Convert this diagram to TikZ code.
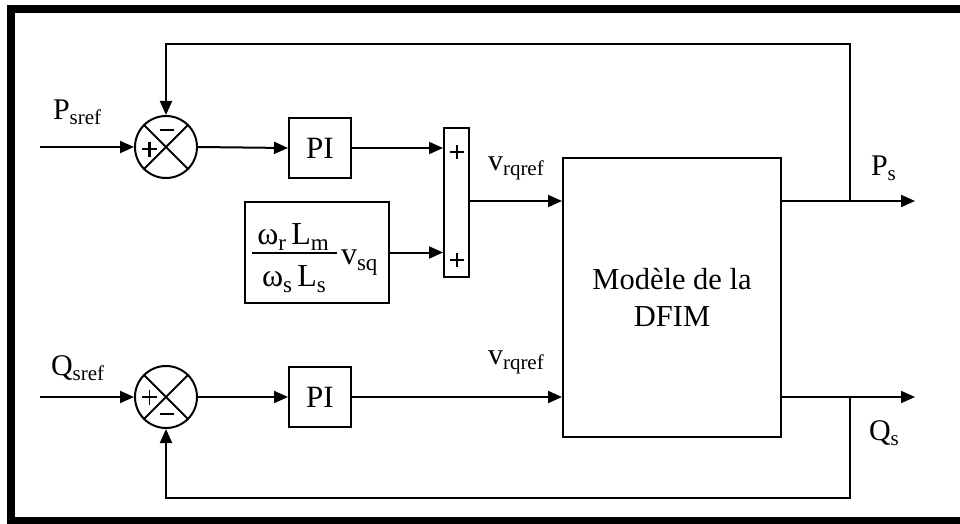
\documentclass[tikz,border=0pt]{standalone}
\usepackage{fontspec}
\setmainfont{Liberation Serif}
\usetikzlibrary{arrows.meta}
\newcommand\sbx[1]{\raisebox{-5pt}{\fontsize{21}{21}\selectfont #1}}
\newcommand\sbf[1]{\raisebox{-6pt}{\fontsize{23}{23}\selectfont #1}}
\begin{document}
\begin{tikzpicture}[x=1pt,y=-1pt, line width=2pt,
  arr/.style={-{Triangle[length=14pt,width=12pt]}},
  blk/.style={draw, line width=2pt, minimum width=62pt, minimum height=60pt, inner sep=0pt,
              font=\fontsize{31}{36}\selectfont},
  sumc/.style={draw, circle, line width=2pt, minimum size=62pt, inner sep=0pt},
  lbl/.style={inner sep=0pt, anchor=base west, font=\fontsize{30}{36}\selectfont},
  frac/.style={inner sep=0pt, anchor=base, font=\fontsize{32}{36}\selectfont},
  signthick/.style={line width=2.6pt},
  signthin/.style={line width=1.4pt}]
\useasboundingbox (0,0) rectangle (960,524);
% frame
\fill[black] (7,5) rectangle (960,13);
\fill[black] (7,5) rectangle (15,524);
\fill[black] (7,517) rectangle (960,524);

% summing junctions
\node[sumc] (s1) at (166,147) {};
\draw (s1.north west) -- (s1.south east) (s1.north east) -- (s1.south west);
\draw[signthick] (142,149) -- (157,149) (149.5,141.5) -- (149.5,156.5);
\draw[signthin] (160,130) -- (174,130);

\node[sumc] (s2) at (166,397) {};
\draw (s2.north west) -- (s2.south east) (s2.north east) -- (s2.south west);
\draw[signthin] (142,397) -- (157,397) (149.5,389.5) -- (149.5,404.5);
\draw[signthick] (160,414) -- (174,414);

% PI blocks
\node[blk] (pi1) at (320,148) {PI};
\node[blk] (pi2) at (320,397) {PI};

% adder bar
\node[draw, minimum width=25pt, minimum height=149pt, inner sep=0pt] (bar) at (456.5,202.5) {};
\draw[signthin] (450,152) -- (464,152) (457,145) -- (457,159);
\draw[signthin] (450,260) -- (464,260) (457,253) -- (457,267);

% gain block
\node[draw, minimum width=144pt, minimum height=101pt, inner sep=0pt] (gain) at (317,252.5) {};
\node[frac] (num) at (293,244) {ω\sbf{r}\,L\sbf{m}};
\node[frac] (den) at (294,286) {ω\sbf{s}\,L\sbf{s}};
\coordinate (fl) at (252,253);
\coordinate (fr) at (337,253);
\draw (fl) -- (fr);
\node[lbl, font=\fontsize{32}{36}\selectfont] (vsq) at (340,264) {v\sbf{sq}};

% DFIM model
\node[draw, minimum width=218pt, minimum height=279pt, inner sep=0pt, align=center,
      font=\fontsize{30.5}{37}\selectfont] (dfim) at (672,297.5) {Modèle de la\\DFIM};

% inputs
\coordinate (in1) at (40,147);
\coordinate (in2) at (40,397);
\draw[arr] (in1) -- (s1.west);
\draw[arr] (in2) -- (s2.west);
\draw[arr] (s1.east) -- (pi1.west);
\draw[arr] (s2.east) -- (pi2.west);
\draw[arr] (pi1.east) -- (pi1.east -| bar.west);
\draw[arr] (gain.east) -- (gain.east -| bar.west);
\draw[arr] (bar.east |- 0,201) -- (dfim.west |- 0,201);
\draw[arr] (pi2.east) -- (pi2.east -| dfim.west);

% outputs and feedback
\coordinate (ps) at (915,201);
\coordinate (qs) at (915,397);
\coordinate (b1) at (850,201);
\coordinate (t1) at (850,44);
\coordinate (b2) at (850,397);
\coordinate (t2) at (850,498);
\draw[arr] (dfim.east |- ps) -- (ps);
\draw[arr] (dfim.east |- qs) -- (qs);
\draw[arr] (b1) -- (t1) -- (t1 -| s1.north) -- (s1.north);
\draw[arr] (b2) -- (t2) -- (t2 -| s2.south) -- (s2.south);

% labels
\node[lbl] (lpsref) at (52,120) {P\sbx{sref}};
\node[lbl] (lqsref) at (50,375) {Q\sbx{sref}};
\node[lbl] (lv1) at (487,170) {v\sbx{rqref}};
\node[lbl] (lv2) at (487,364) {v\sbx{rqref}};
\node[lbl] (lps) at (870,175) {P\sbx{s}};
\node[lbl] (lqs) at (868,440) {Q\sbx{s}};
\end{tikzpicture}
\end{document}
